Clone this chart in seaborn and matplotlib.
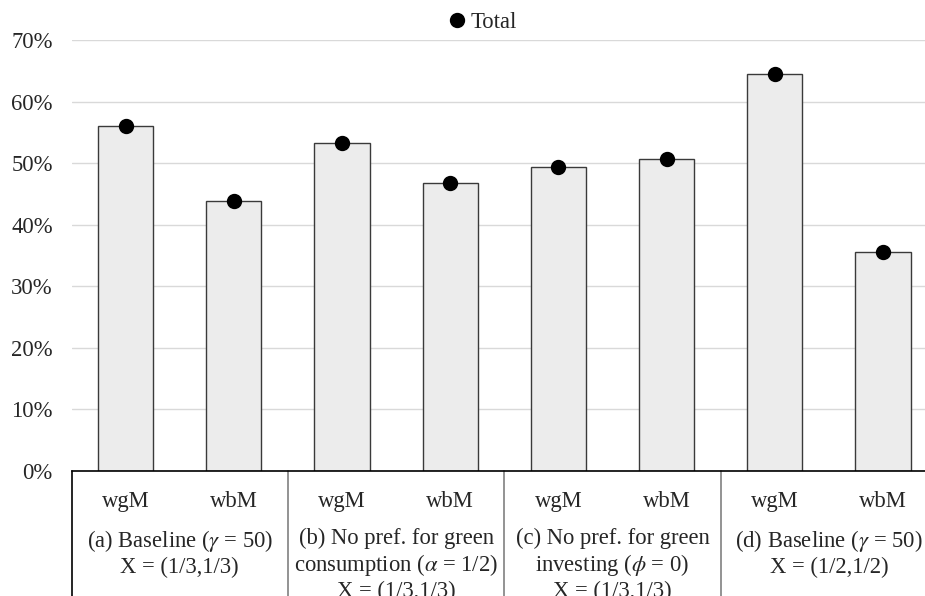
import matplotlib
matplotlib.use("Agg")
import matplotlib.pyplot as plt
import matplotlib.transforms as mtransforms
from matplotlib.ticker import PercentFormatter
import seaborn as sns
import pandas as pd

# ---- data ----
bar_keys = ["a_wgM", "a_wbM", "b_wgM", "b_wbM", "c_wgM", "c_wbM", "d_wgM", "d_wbM"]
bar_labels = ["wgM", "wbM", "wgM", "wbM", "wgM", "wbM", "wgM", "wbM"]
shares = [0.561, 0.439, 0.533, 0.467, 0.493, 0.507, 0.645, 0.355]
totals = [0.561, 0.439, 0.533, 0.467, 0.493, 0.507, 0.645, 0.355]
group_labels = [
    "(a) Baseline ($\\gamma$ = 50)\nX = (1/3,1/3)",
    "(b) No pref. for green\nconsumption ($\\alpha$ = 1/2)\nX = (1/3,1/3)",
    "(c) No pref. for green\ninvesting ($\\phi$ = 0)\nX = (1/3,1/3)",
    "(d) Baseline ($\\gamma$ = 50)\nX = (1/2,1/2)",
]
y_ticks = [0, 0.1, 0.2, 0.3, 0.4, 0.5, 0.6, 0.7]

df = pd.DataFrame({"bar": bar_keys, "share": shares, "total": totals})

sns.set_theme(style="white")
plt.rcParams["font.family"] = ["Liberation Serif", "DejaVu Serif"]
plt.rcParams["mathtext.fontset"] = "stix"
FS = 16.3

fig = plt.figure(figsize=(9.25, 5.96), dpi=100)
W, H = 925, 596
ax = fig.add_axes([71.5 / W, (H - 471) / H, 865.6 / W, 431 / H])

sns.barplot(data=df, x="bar", y="share", order=bar_keys, color="#ececec",
            edgecolor="#3a3a3a", linewidth=1.0, width=0.51, saturation=1,
            ax=ax, zorder=2)
sns.pointplot(data=df, x="bar", y="total", order=bar_keys, color="black",
              linestyle="none", markers="o", markersize=9, errorbar=None,
              label="Total", ax=ax, zorder=4)

ax.set_xlim(-0.5, 7.5)
ax.set_ylim(0, 0.7)
ax.set_yticks(y_ticks)
ax.yaxis.set_major_formatter(PercentFormatter(1.0, decimals=0))
ax.tick_params(axis="y", length=0, pad=13.5, labelsize=FS)
ax.set_xticks([])
ax.set_xlabel("")
ax.set_ylabel("")
ax.grid(axis="y", color="#d9d9d9", linewidth=1.0, zorder=0)
ax.set_axisbelow(True)
for s in ["left", "right", "top"]:
    ax.spines[s].set_visible(False)
ax.spines["bottom"].set_color("black")
ax.spines["bottom"].set_linewidth(1.2)

# category labels and group table below the axis
trans = mtransforms.blended_transform_factory(ax.transData, fig.transFigure)
for i, lab in enumerate(bar_labels):
    ax.text(i, (H - 507) / H, lab, transform=trans, ha="center",
            va="baseline", fontsize=FS, clip_on=False)
for g, lab in enumerate(group_labels):
    ax.text(2 * g + 0.5, (H - 528) / H, lab, transform=trans, ha="center",
            va="top", fontsize=FS, linespacing=1.17, clip_on=False)
for k in range(5):
    x = 2 * k - 0.5
    ax.plot([x, x], [(H - 471) / H, 0], transform=trans,
            color="black" if k == 0 else "#808080", linewidth=1.2,
            clip_on=False)

leg = ax.legend(loc="center", bbox_to_anchor=(481 / W, (H - 22) / H),
                bbox_transform=fig.transFigure, frameon=False, fontsize=FS,
                handletextpad=0.1, handlelength=1.0, borderpad=0)

fig.savefig("out.png", dpi=100)
